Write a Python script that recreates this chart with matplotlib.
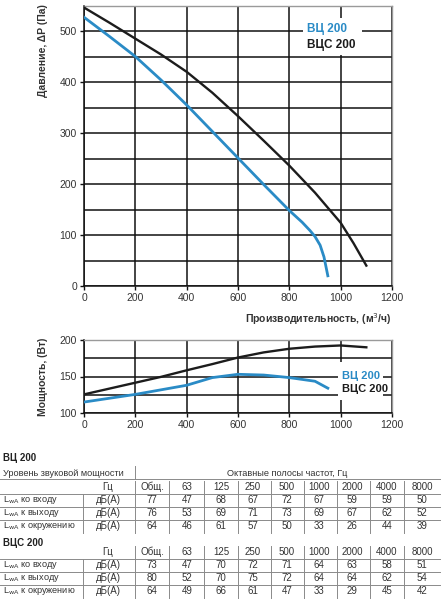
import matplotlib.pyplot as plt
from matplotlib.lines import Line2D
from matplotlib.patches import Rectangle
from matplotlib.ticker import MultipleLocator

plt.rcParams['font.family'] = ['Liberation Sans', 'DejaVu Sans']

BLUE = '#2a8bc6'
DARK = '#1c1c1c'
TXT = '#333333'

# pressure curves, x in m3/h, y in Pa
vc_q = [0, 100, 200, 300, 400, 500, 600, 700, 800, 850, 880, 900, 920, 935, 950]
vc_p = [527, 489, 450, 404, 355, 303, 251, 199, 148, 125, 109, 97, 80, 57, 20]
vcs_q = [0, 100, 200, 300, 400, 500, 600, 700, 800, 900, 1000, 1050, 1100]
vcs_p = [546, 516, 485, 454, 420, 379, 333, 285, 236, 183, 124, 84, 40]

# power curves, W
vc_wq = [0, 200, 400, 500, 600, 700, 800, 900, 950]
vc_w = [115, 125.5, 138, 148.5, 153, 152, 148.5, 143.5, 134]
vcs_wq = [0, 200, 300, 400, 500, 600, 700, 800, 900, 1000, 1100]
vcs_w = [125.5, 141.5, 149.5, 158.5, 167, 176, 183, 188, 191, 192.5, 190]

# sound table
bands = ['Общ.', '63', '125', '250', '500', '1000', '2000', '4000', '8000']
row_names = ['ко входу', 'к выходу', 'к окружению']
vc_sound = [[77, 47, 68, 67, 72, 67, 59, 59, 50],
            [76, 53, 69, 71, 73, 69, 67, 62, 52],
            [64, 46, 61, 57, 50, 33, 26, 44, 39]]
vcs_sound = [[73, 47, 70, 72, 71, 64, 63, 58, 51],
             [80, 52, 70, 75, 72, 64, 64, 62, 54],
             [64, 49, 66, 61, 47, 33, 29, 45, 42]]

W, H = 445, 600
fig = plt.figure(figsize=(W / 100, H / 100), dpi=100)


def fx(px):
    return px / W


def fy(py):
    return 1 - py / H


def style_axes(ax):
    ax.set_axisbelow(True)
    ax.grid(which='both', color='#111111', lw=1.1)
    for s in ['left', 'bottom']:
        ax.spines[s].set_color('#111111')
        ax.spines[s].set_linewidth(1.1)
    for s in ['top', 'right']:
        ax.spines[s].set_color('#9a9a9a')
        ax.spines[s].set_linewidth(1.0)
    ax.tick_params(which='major', direction='out', length=3, width=1.0,
                   labelsize=7.5, labelcolor=TXT, color='#111111', pad=2)
    ax.tick_params(which='minor', length=0)
    ax.set_xlim(0, 1200)
    ax.xaxis.set_major_locator(MultipleLocator(200))


# pressure chart
ax1 = fig.add_axes([fx(84), fy(286), fx(392 - 84), (286 - 5.5) / H])
style_axes(ax1)
ax1.set_ylim(0, 550)
ax1.yaxis.set_major_locator(MultipleLocator(100))
ax1.yaxis.set_minor_locator(MultipleLocator(50))
ax1.plot(vcs_q, vcs_p, color=DARK, lw=1.7, zorder=3)
ax1.plot(vc_q, vc_p, color=BLUE, lw=2.0, zorder=3)
ax1.add_patch(Rectangle((853, 453), 230, 72, facecolor='white',
                        edgecolor='none', zorder=1))
ax1.text(869, 504, 'ВЦ 200', color=BLUE, fontsize=8.5, fontweight='bold',
         va='center', zorder=4)
ax1.text(869, 472, 'ВЦС 200', color=DARK, fontsize=8.5, fontweight='bold',
         va='center', zorder=4)
fig.text(fx(43), fy(51), 'Давление, ΔP (Па)', rotation=90, ha='center',
         va='center', fontsize=7.5, fontweight='bold', color=TXT)
fig.text(fx(392), fy(319), 'Производительность, (м$^3$/ч)', ha='right',
         va='center', fontsize=7.5, fontweight='bold', color=TXT)

# power chart
ax2 = fig.add_axes([fx(84), fy(413), fx(392 - 84), 73 / H])
style_axes(ax2)
ax2.set_ylim(100, 200)
ax2.yaxis.set_major_locator(MultipleLocator(50))
ax2.yaxis.set_minor_locator(MultipleLocator(25))
ax2.plot(vcs_wq, vcs_w, color=DARK, lw=1.7, zorder=3)
ax2.plot(vc_wq, vc_w, color=BLUE, lw=2.0, zorder=3)
ax2.add_patch(Rectangle((990, 118), 175, 52, facecolor='white',
                        edgecolor='none', zorder=1))
ax2.text(1005, 150.7, 'ВЦ 200', color=BLUE, fontsize=8, fontweight='bold',
         va='center', zorder=4)
ax2.text(1005, 132.9, 'ВЦС 200', color=DARK, fontsize=8, fontweight='bold',
         va='center', zorder=4)
fig.text(fx(43), fy(377), 'Мощность, (Вт)', rotation=90, ha='center',
         va='center', fontsize=7.5, fontweight='bold', color=TXT)

# table
col_x = [152, 187, 221, 253, 287, 319, 352, 387, 422]
seps = [135, 169, 204, 238, 271, 304, 337, 370, 404]
LINE = '#8a8a8a'
TFS = 7
LFS = 6.6


def hline(py):
    fig.add_artist(Line2D([fx(0), fx(440)], [fy(py), fy(py)], color=LINE,
                          lw=0.7))


def vline(px, y0, y1):
    fig.add_artist(Line2D([fx(px), fx(px)], [fy(y0), fy(y1)], color=LINE,
                          lw=0.7))


def draw_block(title, title_y, hz_y, rows_y, data, header):
    fig.text(fx(3), fy(title_y), title, fontsize=TFS, fontweight='bold',
             color='#222222', va='center')
    if header:
        fig.text(fx(3), fy(474), 'Уровень звуковой мощности', fontsize=LFS,
                 color=TXT, va='center')
        fig.text(fx(287), fy(474), 'Октавные полосы частот, Гц',
                 fontsize=LFS, color=TXT, va='center', ha='center')
        hline(479)
        vline(135, 466, 479)
    fig.text(fx(108), fy(hz_y), 'Гц', fontsize=TFS, color=TXT, va='center',
             ha='center')
    for x, b in zip(col_x, bands):
        fig.text(fx(x), fy(hz_y), b, fontsize=TFS, color=TXT, va='center',
                 ha='center')
    for s in seps:
        vline(s, hz_y - 6.5, hz_y + 6.5)
    hline(hz_y + 6.5)
    for i, (ry, vals) in enumerate(zip(rows_y, data)):
        fig.text(fx(3), fy(ry), 'L$_{\\mathrm{wA}}$ ' + row_names[i],
                 fontsize=LFS, color=TXT, va='center')
        fig.text(fx(108), fy(ry), 'дБ(А)', fontsize=TFS, color=TXT,
                 va='center', ha='center')
        for x, v in zip(col_x, vals):
            fig.text(fx(x), fy(ry), str(v), fontsize=TFS, color=TXT,
                     va='center', ha='center')
        for s in [83] + seps:
            vline(s, ry - 6.5, ry + 6.5)
        if i < 2:
            hline(ry + 6.5)


draw_block('ВЦ 200', 458, 487, [500, 513, 526], vc_sound, True)
draw_block('ВЦС 200', 543, 552, [565, 578, 591], vcs_sound, False)

fig.savefig('out.png', dpi=100)
